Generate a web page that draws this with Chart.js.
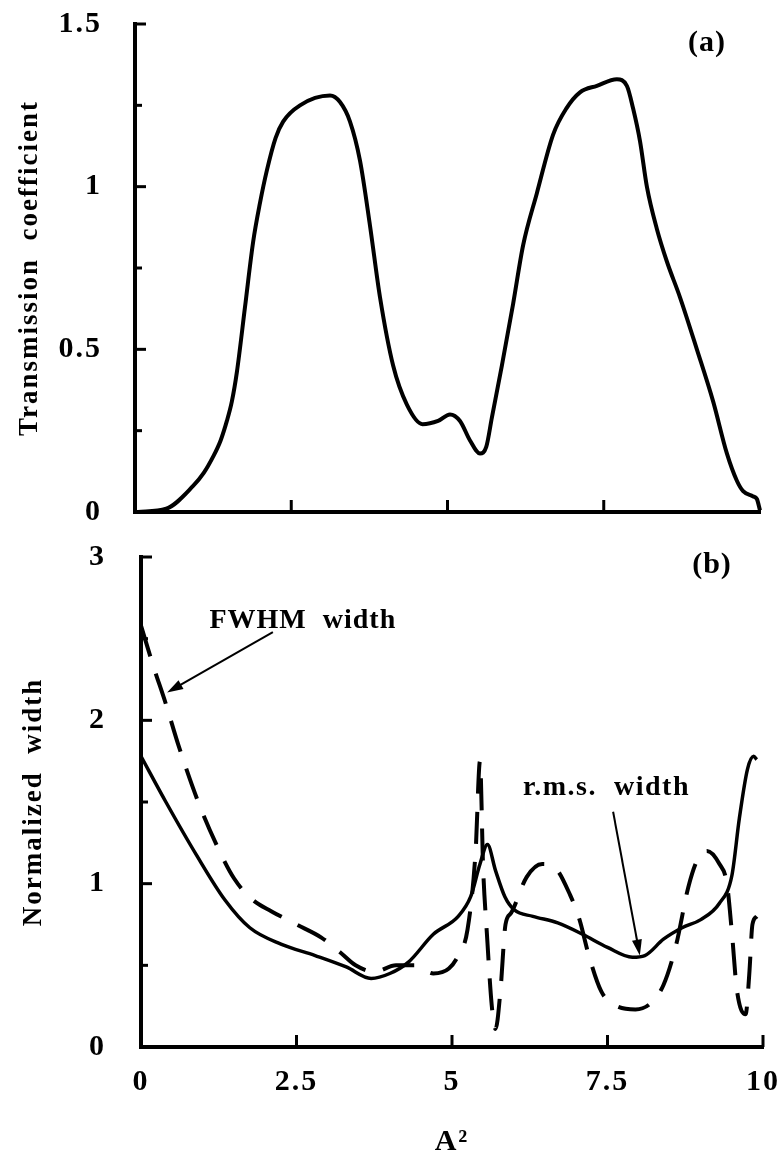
<!DOCTYPE html>
<html>
<head>
<meta charset="utf-8">
<script src="https://cdn.jsdelivr.net/npm/chart.js@4.4.1/dist/chart.umd.min.js"></script>
<style>
  body { margin: 0; background: #fff; }
  #wrap { position: relative; width: 783px; height: 1160px; }
  canvas { position: absolute; left: 0; }
</style>
</head>
<body>
<div id="wrap">
  <canvas id="transmission" width="783" height="540" style="top:0;width:783px;height:540px"></canvas>
  <canvas id="widths" width="783" height="620" style="top:540px;width:783px;height:620px"></canvas>
</div>
<script>
const SERIF = "'Liberation Serif', 'Times New Roman', serif";

// (a) transmission coefficient vs A^2
const transA2 = [0.05, 0.5, 0.93, 1.1, 1.25, 1.37, 1.47, 1.55, 1.63, 1.76,
  1.89, 2.0, 2.11, 2.25, 2.37, 2.64, 3.12, 3.28, 3.44, 3.6,
  3.76, 3.92, 4.13, 4.35, 4.6, 4.85, 5.04, 5.2, 5.36, 5.52,
  5.62, 5.71, 5.87, 6.05, 6.21, 6.43, 6.69, 6.9, 7.12, 7.39,
  7.71, 7.87, 7.97, 8.08, 8.19, 8.35, 8.51, 8.72, 8.99, 9.25,
  9.47, 9.63, 9.73, 9.89, 9.95, 10];
const transCoef = [0, 0.01, 0.08, 0.12, 0.17, 0.22, 0.28, 0.34, 0.43, 0.63,
  0.83, 0.95, 1.05, 1.15, 1.2, 1.25, 1.28, 1.26, 1.2, 1.08,
  0.88, 0.66, 0.45, 0.33, 0.27, 0.28, 0.3, 0.28, 0.22, 0.18,
  0.2, 0.29, 0.45, 0.64, 0.82, 0.98, 1.16, 1.24, 1.29, 1.31,
  1.33, 1.31, 1.24, 1.14, 1.0, 0.87, 0.77, 0.66, 0.5, 0.34,
  0.18, 0.096, 0.064, 0.048, 0.04, 0.005];

// (b) r.m.s. width (solid)
const rmsA2 = [0, 0.4, 0.9, 1.35, 1.75, 2.25, 2.8, 3.3, 3.7, 4.0,
  4.3, 4.7, 5.1, 5.3, 5.45, 5.57, 5.7, 5.85, 6.0, 6.3,
  6.7, 7.1, 7.5, 7.9, 8.1, 8.4, 8.7, 9.0, 9.3, 9.5,
  9.62, 9.75, 9.85, 9.9];
const rmsWidth = [1.78, 1.5, 1.17, 0.9, 0.73, 0.63, 0.56, 0.49, 0.42, 0.45,
  0.52, 0.69, 0.8, 0.92, 1.12, 1.24, 1.08, 0.92, 0.84, 0.8,
  0.76, 0.69, 0.61, 0.55, 0.56, 0.66, 0.73, 0.78, 0.88, 1.05,
  1.4, 1.7, 1.78, 1.76];

// (b) FWHM width (dashed)
const fwhmA2 = [0, 0.2, 0.4, 0.6, 0.9, 1.2, 1.5, 1.8, 2.1, 2.5,
  2.9, 3.2, 3.45, 3.75, 4.1, 4.4, 4.7, 4.95, 5.1, 5.25,
  5.38, 5.45, 5.5, 5.56, 5.64, 5.7, 5.78, 5.86, 5.95, 6.2,
  6.45, 6.65, 6.9, 7.05, 7.2, 7.4, 7.6, 7.95, 8.2, 8.4,
  8.6, 8.8, 8.95, 9.1, 9.3, 9.42, 9.5, 9.58, 9.72, 9.78,
  9.83, 9.9];
const fwhmWidth = [2.58, 2.33, 2.1, 1.85, 1.52, 1.25, 1.03, 0.9, 0.83, 0.75,
  0.67, 0.58, 0.5, 0.46, 0.5, 0.5, 0.45, 0.48, 0.56, 0.72,
  1.2, 1.75, 1.1, 0.7, 0.25, 0.11, 0.35, 0.75, 0.82, 1.04,
  1.12, 1.1, 0.93, 0.78, 0.56, 0.34, 0.26, 0.23, 0.27, 0.38,
  0.62, 0.98, 1.15, 1.2, 1.12, 1.0, 0.7, 0.35, 0.2, 0.45,
  0.75, 0.8];

const xTickStep = 2.5;

const toPoints = (xs, ys) => xs.map((x, i) => ({ x, y: ys[i] }));
const bold = (size) => ({ family: SERIF, size, weight: "bold" });
const plainNumber = (v) => String(v);

// fix a scale's thickness and stop its tick labels from pushing the plot area in
const fixedBox = (prop, size) => (s) => {
  s[prop] = size;
  s.paddingTop = s.paddingBottom = s.paddingLeft = s.paddingRight = 0;
};

// wide letter spacing on all canvas text
const spacing = {
  id: "spacing",
  beforeDraw(chart) { chart.ctx.letterSpacing = "2px"; },
};

// short tick marks pointing into the plot, majors longer than minors
const inwardTicks = {
  id: "inwardTicks",
  afterDraw(chart, args, opts) {
    const { ctx, chartArea: area, scales: { x, y } } = chart;
    ctx.save();
    ctx.strokeStyle = "#000";
    ctx.lineWidth = 3;
    for (let v = opts.yMinor; v <= y.max + 1e-9; v += opts.yMinor) {
      const major = Math.abs(v / opts.yMajor - Math.round(v / opts.yMajor)) < 1e-6;
      const py = y.getPixelForValue(v);
      ctx.beginPath();
      ctx.moveTo(area.left, py);
      ctx.lineTo(area.left + (major ? 11 : 7), py);
      ctx.stroke();
    }
    for (let v = xTickStep; v <= opts.xLast + 1e-9; v += xTickStep) {
      const px = x.getPixelForValue(v);
      ctx.beginPath();
      ctx.moveTo(px, area.bottom);
      ctx.lineTo(px, area.bottom - 12);
      ctx.stroke();
    }
    ctx.restore();
  },
};

// panel letters, curve names and pointer arrows
const notes = {
  id: "notes",
  afterDraw(chart, args, opts) {
    const { ctx, scales: { x, y } } = chart;
    ctx.save();
    ctx.fillStyle = "#000";
    ctx.strokeStyle = "#000";
    ctx.textBaseline = "middle";
    (opts.labels || []).forEach((l) => {
      ctx.font = `bold ${l.size}px ${SERIF}`;
      ctx.letterSpacing = l.gap + "px";
      ctx.textAlign = l.align;
      ctx.fillText(l.text, x.getPixelForValue(l.x), y.getPixelForValue(l.y));
    });
    (opts.arrows || []).forEach((a) => {
      const x0 = x.getPixelForValue(a.from[0]), y0 = y.getPixelForValue(a.from[1]);
      const x1 = x.getPixelForValue(a.to[0]), y1 = y.getPixelForValue(a.to[1]);
      const ang = Math.atan2(y1 - y0, x1 - x0);
      const len = 16, half = 5;
      ctx.lineWidth = 2;
      ctx.beginPath();
      ctx.moveTo(x0, y0);
      ctx.lineTo(x1 - Math.cos(ang) * len * 0.8, y1 - Math.sin(ang) * len * 0.8);
      ctx.stroke();
      ctx.beginPath();
      ctx.moveTo(x1, y1);
      ctx.lineTo(x1 - Math.cos(ang) * len - Math.sin(ang) * half, y1 - Math.sin(ang) * len + Math.cos(ang) * half);
      ctx.lineTo(x1 - Math.cos(ang) * len + Math.sin(ang) * half, y1 - Math.sin(ang) * len - Math.cos(ang) * half);
      ctx.closePath();
      ctx.fill();
    });
    ctx.restore();
  },
};

function baseScale(min, max) {
  return {
    type: "linear",
    min,
    max,
    grid: { display: true, drawOnChartArea: false, drawTicks: false },
    border: { display: true, color: "#000", width: 4 },
  };
}

new Chart(document.getElementById("transmission"), {
  type: "line",
  data: {
    datasets: [{
      data: toPoints(transA2, transCoef),
      borderColor: "#000",
      borderWidth: 4,
      pointRadius: 0,
      cubicInterpolationMode: "monotone",
      clip: false,
    }],
  },
  options: {
    responsive: false,
    animation: false,
    events: [],
    layout: { autoPadding: false, padding: { top: 24, right: 23, bottom: 0, left: 0 } },
    plugins: {
      legend: { display: false },
      tooltip: { enabled: false },
      inwardTicks: { yMinor: 0.25, yMajor: 0.5, xLast: 7.5 },
      notes: {
        labels: [{ text: "(a)", x: 9.15, y: 1.44, size: 30, gap: 1, align: "center" }],
      },
    },
    scales: {
      x: {
        ...baseScale(0, 10),
        ticks: { display: false },
        afterFit: fixedBox("height", 28),
      },
      y: {
        ...baseScale(0, 1.5),
        ticks: { stepSize: 0.5, color: "#000", font: bold(30), padding: 33, callback: plainNumber },
        title: {
          display: true,
          text: "Transmission  coefficient",
          color: "#000",
          font: bold(27),
          padding: { top: 14, bottom: 0 },
        },
        afterFit: fixedBox("width", 135),
      },
    },
  },
  plugins: [spacing, inwardTicks, notes],
});

new Chart(document.getElementById("widths"), {
  type: "line",
  data: {
    datasets: [
      {
        label: "r.m.s. width",
        data: toPoints(rmsA2, rmsWidth),
        borderColor: "#000",
        borderWidth: 3.5,
        pointRadius: 0,
        cubicInterpolationMode: "monotone",
        clip: false,
      },
      {
        label: "FWHM width",
        data: toPoints(fwhmA2, fwhmWidth),
        borderColor: "#000",
        borderWidth: 4,
        borderDash: [32, 18],
        pointRadius: 0,
        cubicInterpolationMode: "monotone",
        clip: false,
      },
    ],
  },
  options: {
    responsive: false,
    animation: false,
    events: [],
    layout: { autoPadding: false, padding: { top: 17, right: 20, bottom: 0, left: 0 } },
    plugins: {
      legend: { display: false },
      tooltip: { enabled: false },
      inwardTicks: { yMinor: 0.5, yMajor: 1, xLast: 10 },
      notes: {
        labels: [
          { text: "(b)", x: 9.18, y: 2.95, size: 30, gap: 1, align: "center" },
          { text: "FWHM  width", x: 1.1, y: 2.61, size: 28, gap: 1, align: "left" },
          { text: "r.m.s.  width", x: 6.14, y: 1.59, size: 28, gap: 1.5, align: "left" },
        ],
        arrows: [
          { from: [2.12, 2.54], to: [0.42, 2.17] },
          { from: [7.59, 1.44], to: [8.02, 0.56] },
        ],
      },
    },
    scales: {
      x: {
        ...baseScale(0, 10),
        ticks: { stepSize: xTickStep, color: "#000", font: bold(30), padding: 17, autoSkip: false, maxRotation: 0 },
        title: {
          display: true,
          text: "A²",
          color: "#000",
          font: bold(30),
          padding: { top: 0, bottom: 0 },
        },
        afterFit: fixedBox("height", 113),
      },
      y: {
        ...baseScale(0, 3),
        ticks: { stepSize: 1, color: "#000", font: bold(30), padding: 35, callback: plainNumber },
        title: {
          display: true,
          text: "Normalized  width",
          color: "#000",
          font: bold(27),
          padding: { top: 18, bottom: 0 },
        },
        afterFit: fixedBox("width", 141),
      },
    },
  },
  plugins: [spacing, inwardTicks, notes],
});
</script>
</body>
</html>
